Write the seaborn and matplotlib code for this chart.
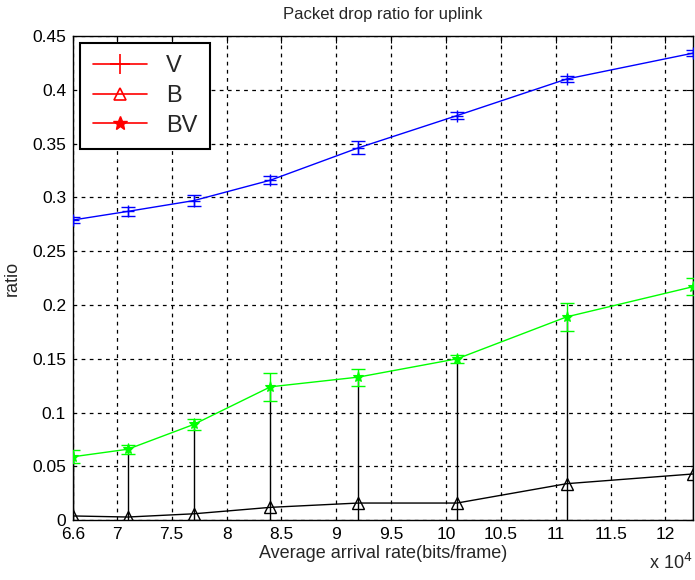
import matplotlib
matplotlib.use("Agg")
import matplotlib.pyplot as plt
from matplotlib.lines import Line2D
import numpy as np
import pandas as pd
import seaborn as sns

# Average arrival rate (bits/frame)
arrival_rate = [66000, 71000, 77000, 84000, 92000, 101000, 111000, 122500]

# Packet drop ratio per traffic class, with error-bar half widths
ratio_v = [0.279, 0.287, 0.297, 0.316, 0.346, 0.376, 0.410, 0.434]
err_v = [0.003, 0.004, 0.005, 0.004, 0.006, 0.003, 0.003, 0.003]

ratio_b = [0.004, 0.003, 0.006, 0.012, 0.016, 0.016, 0.034, 0.043]
err_b = [0.055, 0.063, 0.083, 0.112, 0.117, 0.134, 0.155, 0.174]

ratio_bv = [0.059, 0.066, 0.089, 0.124, 0.133, 0.150, 0.189, 0.217]
err_bv = [0.006, 0.004, 0.005, 0.013, 0.008, 0.004, 0.013, 0.008]

xtick_vals = [66000, 70000, 75000, 80000, 85000, 90000, 95000, 100000,
              105000, 110000, 115000, 120000]
xtick_labels = ["6.6", "7", "7.5", "8", "8.5", "9", "9.5", "10",
                "10.5", "11", "11.5", "12"]
ytick_vals = [0, 0.05, 0.1, 0.15, 0.2, 0.25, 0.3, 0.35, 0.4, 0.45]
ytick_labels = ["0", "0.05", "0.1", "0.15", "0.2", "0.25", "0.3", "0.35", "0.4", "0.45"]

sns.set_theme(style="white")
plt.rcParams["font.family"] = ["Liberation Sans", "DejaVu Sans"]

df = pd.DataFrame({
    "rate": arrival_rate * 3,
    "ratio": ratio_b + ratio_bv + ratio_v,
    "cls": ["B"] * len(arrival_rate) + ["BV"] * len(arrival_rate) + ["V"] * len(arrival_rate),
})

fig = plt.figure(figsize=(6.95, 5.8), dpi=100)
ax = fig.add_axes([0.105, 0.103, 0.892, 0.835])

styles = {
    "B": dict(color="black", marker="^", ms=8, mfc="none", mew=1.0, z=3),
    "BV": dict(color="#00ff00", marker="*", ms=8, mfc="#00ff00", mew=0.8, z=4),
    "V": dict(color="#0000ff", marker="+", ms=9, mfc="#0000ff", mew=1.0, z=5),
}
errs = {"B": err_b, "BV": err_bv, "V": err_v}
caps = {"B": 0, "BV": 5, "V": 5}

for cls in ["B", "BV", "V"]:
    sub = df[df["cls"] == cls]
    st = styles[cls]
    ax.errorbar(sub["rate"], sub["ratio"], yerr=errs[cls], fmt="none",
                ecolor=st["color"], elinewidth=1.0, capsize=caps[cls],
                capthick=1.0, zorder=st["z"])
    sns.lineplot(data=sub, x="rate", y="ratio", ax=ax, color=st["color"],
                 linewidth=1.0, marker=st["marker"], markersize=st["ms"],
                 markerfacecolor=st["mfc"], markeredgecolor=st["color"],
                 markeredgewidth=st["mew"], zorder=st["z"], legend=False,
                 errorbar=None)

ax.set_xlim(66000, 122500)
ax.set_ylim(0, 0.45)
ax.set_xticks(xtick_vals)
ax.set_xticklabels(xtick_labels)
ax.set_yticks(ytick_vals)
ax.set_yticklabels(ytick_labels)
ax.tick_params(direction="in", length=5, width=0.8, colors="black",
               labelsize=12.5, top=True, right=True, pad=5)

ax.grid(True, color="black", linestyle=(0, (3, 3.5)), linewidth=0.9)
for sp in ax.spines.values():
    sp.set_visible(True)
    sp.set_color("black")
    sp.set_linewidth(1.0)

ax.set_title("Packet drop ratio for uplink", fontsize=12, pad=12)
ax.set_xlabel("Average arrival rate(bits/frame)", fontsize=13, labelpad=2)
ax.set_ylabel("ratio", fontsize=13, labelpad=8)
ax.text(1.0, -0.068, r"x 10$^4$", transform=ax.transAxes, ha="right",
        va="top", fontsize=13)

handles = [
    Line2D([], [], color="red", marker="+", ms=14, mew=1.2, lw=1.2),
    Line2D([], [], color="red", marker="^", ms=9, mfc="none", mew=1.2, lw=1.2),
    Line2D([], [], color="red", marker="*", ms=10, mew=1.0, lw=1.2),
]
leg = ax.legend(handles, ["V", "B", "BV"], loc="upper left",
                bbox_to_anchor=(0.012, 0.986), borderaxespad=0,
                fontsize=17, frameon=True,
                fancybox=False, edgecolor="black", framealpha=1,
                handlelength=2.3, borderpad=0.52, labelspacing=0.33,
                handletextpad=0.8)
leg.get_frame().set_linewidth(1.5)

fig.savefig("out.png", dpi=100)
